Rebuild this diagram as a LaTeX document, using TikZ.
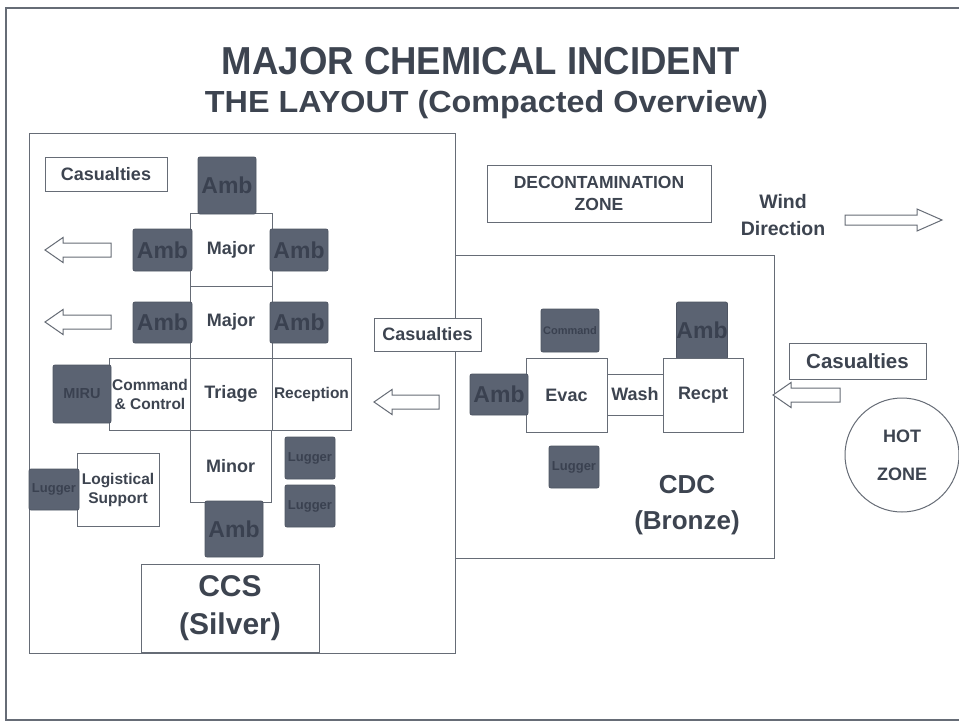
\documentclass[tikz,border=0pt]{standalone}
\usepackage{fontspec}
\setmainfont{Liberation Sans}
\usepackage{graphicx}
\definecolor{linec}{HTML}{666C76}
\definecolor{txt}{HTML}{3D4450}
\definecolor{dfill}{HTML}{5B6372}
\definecolor{dline}{HTML}{4E5563}
\definecolor{dtxt}{HTML}{3A4150}
\newcommand{\fsz}[2]{\fontsize{#1pt}{#2pt}\selectfont}
\begin{document}
\begin{tikzpicture}[x=1pt,y=-1pt,
  box/.style={draw=linec, fill=white, line width=1pt, inner sep=0pt, text=txt, font=\bfseries, align=center},
  dbox/.style={draw=dline, fill=dfill, line width=0.8pt, rounded corners=2pt, inner sep=0pt, text=dtxt, align=center},
  sz/.style 2 args={minimum width=#1pt, minimum height=#2pt},
  area/.style={draw=linec, line width=1pt, inner sep=0pt},
  arr/.style={draw=linec, fill=white, line width=1pt, line join=miter},
  larrow/.pic={\draw[arr] (0,0) -- (18,-12.5) -- (18,-7) -- (#1,-7) -- (#1,7) -- (18,7) -- (18,12.5) -- cycle;},
  rarrow/.pic={\draw[arr] (0,0) -- (-25,-11) -- (-25,-5) -- (-#1,-5) -- (-#1,5) -- (-25,5) -- (-25,11) -- cycle;},
  ambf/.style={font=\bfseries\fsz{23}{26}},
  lugf/.style={font=\bfseries\fsz{13}{15}},
  mainf/.style={font=\bfseries\fsz{18}{22}},
  smallf/.style={font=\bfseries\fsz{15.5}{19}}
]
\useasboundingbox (0,0) rectangle (959,723);
\clip (0,0) rectangle (959,723);
\fill[white] (0,0) rectangle (959,723);
% outer frame
\draw[linec, line width=1.2pt] (6,8) rectangle (990,720);

% titles
\node[anchor=base, text=txt, inner sep=0pt] (t1) at (481,74)
  {\resizebox{518pt}{\height}{\bfseries\fsz{39}{44}MAJOR CHEMICAL INCIDENT}};
\node[anchor=base, text=txt, inner sep=0pt] (t2) at (486.5,112)
  {\resizebox{563pt}{\height}{\bfseries\fsz{30.5}{36}THE LAYOUT (Compacted Overview)}};

% areas
\node[area, sz={426}{520}] (ccsarea) at (242,393) {};
\node[area, sz={319}{303}] (cdcarea) at (614.5,406.5) {};

% ---------- CCS side ----------
\node[box, sz={122}{34}, font=\bfseries\fsz{18}{22}] (cas1) at (106,174) {Casualties};
\node[box, sz={82}{73}, mainf] (major1) at (231,249.5) {Major};
\node[box, sz={82}{72}, mainf] (major2) at (231,322) {Major};
\node[dbox, sz={58}{57}, ambf] (ambT) at (227,185.5) {Amb};
\node[dbox, sz={59}{42}, ambf] (ambL1) at (162.5,250) {Amb};
\node[dbox, sz={58}{42}, ambf] (ambR1) at (299,250) {Amb};
\node[dbox, sz={59}{41}, ambf] (ambL2) at (162.5,322.5) {Amb};
\node[dbox, sz={58}{41}, ambf] (ambR2) at (299,322.5) {Amb};
\pic at (45,250) {larrow=66};
\pic at (45,322) {larrow=66};

\node[box, sz={82}{72}, smallf] (cc) at (150,394) {Command\\\& Control};
\node[box, sz={82}{72}, font=\bfseries\fsz{18}{22}] (triage) at (231,394) {Triage};
\node[box, sz={79}{72}, smallf] (recep) at (311.5,394) {Reception};
\node[dbox, sz={58}{58}, font=\bfseries\fsz{14.5}{16}] (miru) at (82,394) {MIRU};

\node[box, sz={107}{33}, font=\bfseries\fsz{18}{22}] (cas2) at (427.5,334.5) {Casualties};
\pic at (374,402) {larrow=65};

\node[box, sz={81}{72}, mainf] (minor) at (230.5,466) {Minor};
\node[dbox, sz={50}{42}, lugf] (lugR1) at (310,458) {Lugger};
\node[dbox, sz={50}{42}, lugf] (lugR2) at (310,506) {Lugger};
\node[box, sz={82}{73}, smallf] (logi) at (118,489.5) {Logistical\\Support};
\node[dbox, sz={50}{41}, lugf] (lugL) at (54,489.5) {Lugger};
\node[dbox, sz={58}{56}, ambf] (ambB) at (234,529) {Amb};
\node[box, sz={178}{88}, font=\bfseries\fsz{30}{38}] (ccs) at (230,608) {CCS\\(Silver)};

% ---------- CDC side ----------
\node[box, sz={224}{57}, font=\bfseries\fsz{17.5}{22}] (decon) at (599,193.5) {DECONTAMINATION\\ZONE};
\node[text=txt, inner sep=0pt, align=center, font=\bfseries\fsz{19.5}{27}] (wind) at (783,215) {Wind\\Direction};
\pic at (942,220) {rarrow=97};

\node[dbox, sz={58}{43}, font=\bfseries\fsz{11}{13}] (cmd) at (570,330.5) {Command};
\node[dbox, sz={50}{57}, ambf] (ambTR) at (702,330.5) {Amb};
\node[box, sz={56}{41}, mainf] (wash) at (635,394.5) {Wash};
\node[box, sz={81}{74}, mainf] (evac) at (566.5,395) {Evac};
\node[box, sz={80}{74}, mainf] (recpt) at (703,395) {Recpt};
\node[dbox, sz={58}{41}, ambf] (ambLD) at (499,394.5) {Amb};
\node[dbox, sz={50}{42}, lugf] (lugD) at (574,467) {Lugger};
\node[text=txt, inner sep=0pt, align=center, font=\bfseries\fsz{26}{36}] (cdc) at (687,505) {CDC\\(Bronze)};

\node[box, sz={137}{36}, font=\bfseries\fsz{20.5}{24}] (cas3) at (857.5,361) {Casualties};
\pic at (773,395) {larrow=67};
\node[circle, draw=linec, fill=white, line width=1pt, minimum size=114pt, inner sep=0pt, text=txt, align=center, font=\bfseries\fsz{18}{38}] (hot) at (902,455) {HOT\\ZONE};
\end{tikzpicture}
\end{document}
